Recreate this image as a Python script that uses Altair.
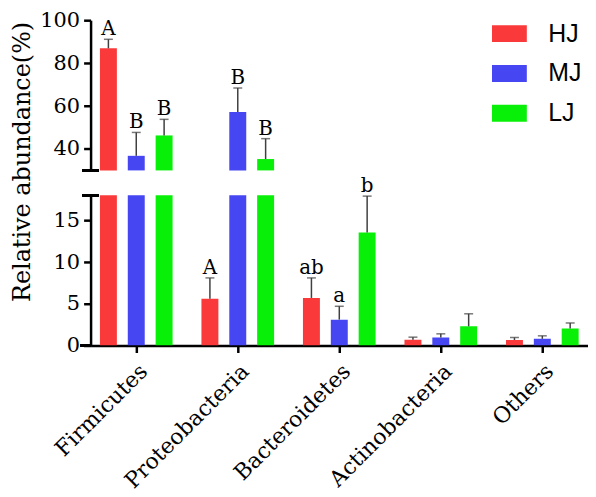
import altair as alt
import pandas as pd

phyla = ["Firmicutes", "Proteobacteria", "Bacteroidetes", "Actinobacteria", "Others"]
groups = ["HJ", "MJ", "LJ"]
group_shift = [-0.2744, 0.0, 0.2744]   # position of each group's bar inside a category
colors = ["#FA3A3A", "#4646F2", "#08F008"]

hj_mean = [86.9, 5.6, 5.7, 0.7, 0.66]
hj_err = [4.2, 2.5, 2.4, 0.3, 0.3]
mj_mean = [36.8, 57.2, 3.1, 0.96, 0.8]
mj_err = [10.9, 11.2, 1.6, 0.44, 0.36]
lj_mean = [46.3, 35.3, 13.55, 2.3, 2.05]
lj_err = [7.5, 9.5, 4.35, 1.5, 0.65]
hj_letter = ["A", "A", "ab", "", ""]
mj_letter = ["B", "B", "a", "", ""]
lj_letter = ["B", "B", "b", "", ""]

HALF = 0.0835
rows = []
for g, sh, means, errs, letters in [("HJ", group_shift[0], hj_mean, hj_err, hj_letter),
                                    ("MJ", group_shift[1], mj_mean, mj_err, mj_letter),
                                    ("LJ", group_shift[2], lj_mean, lj_err, lj_letter)]:
    for i, (p, m, e, l) in enumerate(zip(phyla, means, errs, letters)):
        rows.append({"phylum": p, "group": g, "pos": i + sh,
                     "x0": i + sh - HALF, "x1": i + sh + HALF,
                     "mean": m, "top": m + e, "letter": l})
df = pd.DataFrame(rows)

SERIF = "DejaVu Serif"
W, H = 500, 151
xscale = alt.Scale(domain=[-0.45, 4.45], nice=False, zero=False)
label_expr = ("['" + "','".join(phyla) + "'][round(datum.value)]")


def y_axis(values, **kw):
    return alt.Axis(values=values, grid=False, domainColor="black", domainWidth=2.5,
                    tickColor="black", tickWidth=2.5, tickSize=7,
                    labelFont=SERIF, labelFontSize=21, labelColor="black",
                    labelPadding=4, **kw)


color_scale = alt.Scale(domain=groups, range=colors)

# ---------- upper panel (30-100) ----------
up_scale = alt.Scale(domain=[30, 100], zero=False, nice=False)
up_base = alt.Chart(df).transform_filter("datum.mean > 30")

up_bars = up_base.mark_bar().encode(
    x=alt.X("x0:Q", scale=xscale, axis=None), x2="x1:Q",
    y=alt.Y("mean:Q", scale=up_scale, axis=y_axis([40, 60, 80, 100], title=None)),
    y2=alt.datum(30),
    color=alt.Color("group:N", sort=groups, scale=color_scale,
                    legend=alt.Legend(orient="none", legendX=403.5, legendY=-4,
                                      title=None,
                                      symbolType="M-1,-0.486H1V0.486H-1Z",
                                      symbolSize=1225, symbolStrokeWidth=0,
                                      symbolOpacity=1,
                                      labelFont="Liberation Sans", labelFontSize=25,
                                      labelColor="black", labelOffset=21.5,
                                      rowPadding=9)),
)
up_err = up_base.mark_rule(color="#404040", strokeWidth=1.5).encode(
    x="pos:Q", y="mean:Q", y2="top:Q")
up_cap = up_base.mark_tick(color="#404040", thickness=1.5, size=9, orient="horizontal").encode(
    x="pos:Q", y="top:Q")
up_txt = up_base.mark_text(font=SERIF, fontSize=20, color="black", baseline="alphabetic",
                           dy=-4).encode(x="pos:Q", y="top:Q", text="letter:N")
up_break = alt.Chart(df).mark_rule(color="black", strokeWidth=2.5).encode(
    x=alt.value(-8), x2=alt.value(8), y=alt.datum(30))

upper = alt.layer(up_bars, up_err, up_cap, up_txt, up_break).properties(width=W, height=H)

# ---------- lower panel (0-18) ----------
lo_scale = alt.Scale(domain=[0, 18], nice=False)
lo_base = alt.Chart(df).transform_filter("datum.mean < 18")

lo_bars = alt.Chart(df).mark_bar(clip=True).encode(
    x=alt.X("x0:Q", scale=xscale,
            axis=alt.Axis(values=[0, 1, 2, 3, 4], labelExpr=label_expr, title=None,
                          labelAngle=-45, grid=False, labelOverlap=False,
                          domainColor="black", domainWidth=2.5,
                          tickColor="black", tickWidth=2.5, tickSize=7,
                          labelFont=SERIF, labelFontSize=22, labelColor="black",
                          labelPadding=8, labelAlign="right", labelBaseline="top")),
    x2="x1:Q",
    y=alt.Y("mean:Q", scale=lo_scale,
            axis=y_axis([0, 5, 10, 15],
                        title="Relative abundance(%)", titleFont=SERIF,
                        titleFontSize=24, titleFontWeight="normal", titleColor="black",
                        titleAngle=270, titleX=-68, titleY=-34,
                        titleAlign="center", titleBaseline="middle")),
    y2=alt.datum(0),
    color=alt.Color("group:N", sort=groups, scale=color_scale, legend=None),
)
lo_err = lo_base.mark_rule(color="#404040", strokeWidth=1.5).encode(
    x="pos:Q", y="mean:Q", y2="top:Q")
lo_cap = lo_base.mark_tick(color="#404040", thickness=1.5, size=9, orient="horizontal").encode(
    x="pos:Q", y="top:Q")
lo_txt = lo_base.mark_text(font=SERIF, fontSize=20, color="black", baseline="alphabetic",
                           dy=-4).encode(x="pos:Q", y="top:Q", text="letter:N")
lo_break = alt.Chart(df).mark_rule(color="black", strokeWidth=2.5).encode(
    x=alt.value(-8), x2=alt.value(8), y=alt.datum(18))
lo_ext = alt.Chart(df).mark_rule(color="black", strokeWidth=2.5).encode(
    x=alt.value(-10), x2=alt.value(0), y=alt.datum(0))

lower = alt.layer(lo_bars, lo_err, lo_cap, lo_txt, lo_break, lo_ext).properties(width=W, height=H)

chart = alt.vconcat(upper, lower, spacing=25, bounds="flush").resolve_scale(
    color="independent"
).properties(
    padding={"left": 2, "top": 0, "right": 0, "bottom": 0}
).configure_view(stroke=None)

chart.save("out.html", embed_options={"renderer": "svg", "actions": False})
